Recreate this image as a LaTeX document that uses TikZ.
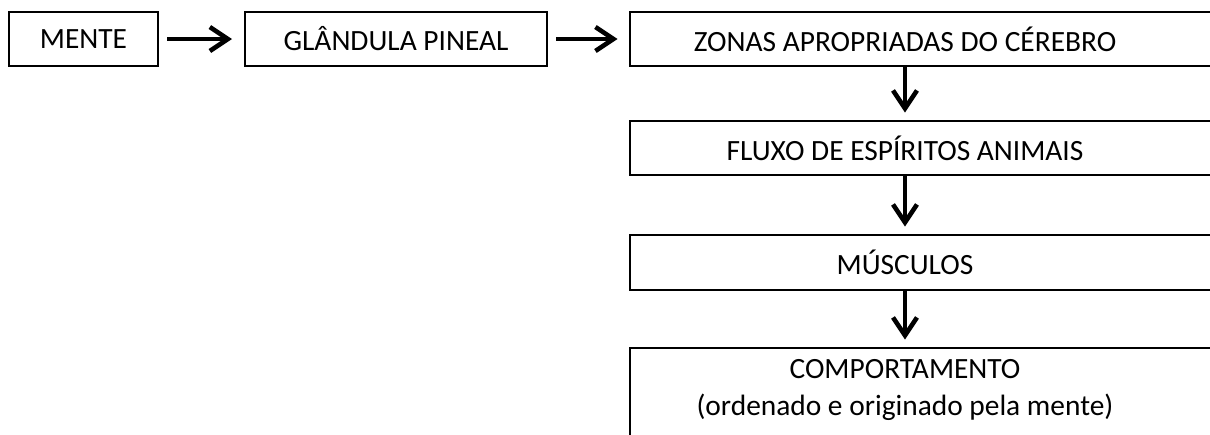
\documentclass[tikz,border=0pt]{standalone}
\usepackage{fontspec}
\setmainfont{Carlito}
\usetikzlibrary{arrows.meta, positioning}

\begin{document}
\begin{tikzpicture}[
    x=0.5pt, y=-0.5pt,
    font=\fontsize{14.7}{18.5}\selectfont,
    box/.style={draw, line width=1pt, minimum width=#1, minimum height=27pt, align=center, inner sep=0pt},
    col/.style={minimum width=275pt, minimum height=27pt, align=center, inner sep=0pt},
    frame/.style={line width=1pt},
    flow/.style={line width=2.3pt, -{Straight Barb[length=9pt, width=12pt]}},
    side/.style={flow, shorten <=4pt, shorten >=6pt},
    down/.style={flow, shorten >=4pt}
]
\clip (0,0) rectangle (1210,434);

% top row
\node[box=74.5pt] (mente) at (83.5,39) {MENTE};
\node[box=151pt] (pineal) at (396,39) {GLÂNDULA PINEAL};

% right column, boxes run off the page
\node[col] (zonas) at (905,39) {ZONAS APROPRIADAS DO CÉREBRO};
\node[col] (fluxo) at (905,148) {FLUXO DE ESPÍRITOS ANIMAIS};
\node[col, minimum height=27.5pt] (musc) at (905,262.5) {MÚSCULOS};
\node[col, minimum height=42pt] (comp) at (905,390) {COMPORTAMENTO\\(ordenado e originado pela mente)};

\foreach \n in {zonas, fluxo, musc}
    \draw[frame] (\n.north west) rectangle ([xshift=40pt]\n.south east);
\draw[frame] (comp.north west) rectangle ([xshift=40pt, yshift=-10pt]comp.south east);

\draw[side] (mente) -- (pineal);
\draw[side] (pineal) -- (zonas);
\draw[down] (zonas) -- (fluxo);
\draw[down] (fluxo) -- (musc);
\draw[down] (musc) -- (comp);

\end{tikzpicture}
\end{document}
